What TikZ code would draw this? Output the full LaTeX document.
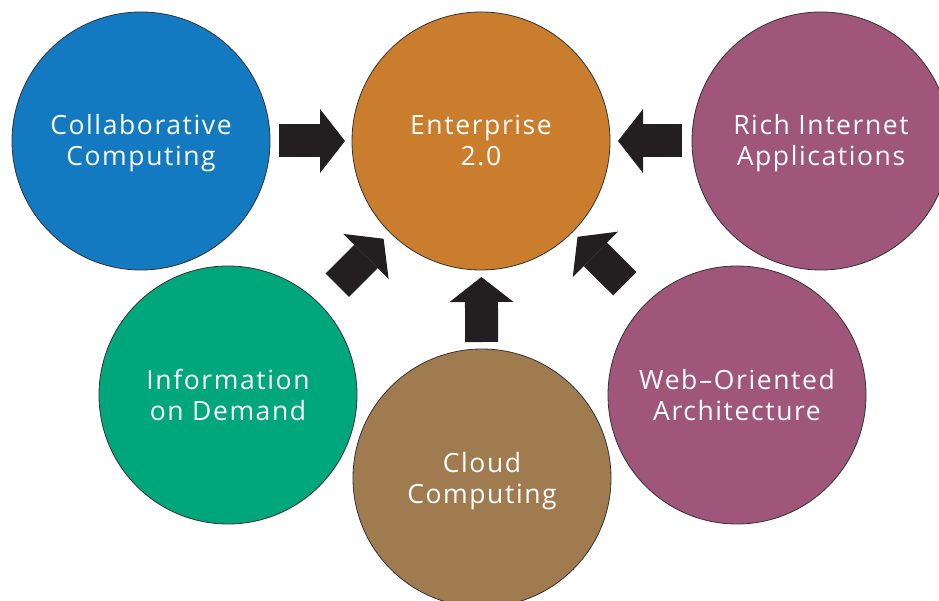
\documentclass[tikz,border=0pt]{standalone}
\usepackage{fontspec}
\setmainfont{Open Sans}[LetterSpace=6]
\usetikzlibrary{arrows.meta}
\definecolor{collabblue}{HTML}{137AC1}
\definecolor{entorange}{HTML}{CB7D2E}
\definecolor{webpurple}{HTML}{A0557A}
\definecolor{infogreen}{HTML}{00A67C}
\definecolor{cloudbrown}{HTML}{A07B50}
\definecolor{arrowblack}{HTML}{231F20}
% two text lines with the same box whatever the letters
\newcommand{\twolines}[2]{\rule{0pt}{28pt}#1\\#2\rule[-9pt]{0pt}{0pt}}

\begin{document}
\begin{tikzpicture}[x=1pt, y=-1pt, thin]

\tikzstyle{every node}=[circle, minimum size=258pt, inner sep=0pt, draw=black!80, line width=0.8pt,
  text=white, align=center, font=\fontsize{26.5}{31}\selectfont]
\tikzstyle{blockarrow}=[draw=arrowblack, line width=33pt,
  -{Triangle[length=25pt, width=64pt, line width=0pt]}]

\useasboundingbox (0,0) rectangle (939,601);

\draw (141, 141) node[fill=collabblue] (collab) {\twolines{Collaborative}{Computing}}
      (481, 141) node[fill=entorange]  (ent) {\twolines{Enterprise}{2.0}}
      (821, 141) node[fill=webpurple]  (ria) {\twolines{Rich Internet}{Applications}};
\draw (228, 395) node[fill=infogreen]  (info) {\twolines{Information}{on Demand}}
      (482, 478) node[fill=cloudbrown] (cloud) {\twolines{Cloud}{Computing}}
      (737, 395) node[fill=webpurple]  (woa) {\twolines{Web–Oriented}{Architecture}};

% arrows run centre to centre, cut back to the gaps
\draw[blockarrow, shorten <=138pt, shorten >=136pt] (collab.center) -- (ent.center);
\draw[blockarrow, shorten <=139pt, shorten >=137pt] (ria.center) -- (ent.center);
\draw[blockarrow, shorten <=155pt, shorten >=138pt] (info.center) -- (ent.center);
\draw[blockarrow, shorten <=136pt, shorten >=136pt] (cloud.center) -- (ent.center);
\draw[blockarrow, shorten <=158pt, shorten >=136pt] (woa.center) -- (ent.center);

\end{tikzpicture}
\end{document}
